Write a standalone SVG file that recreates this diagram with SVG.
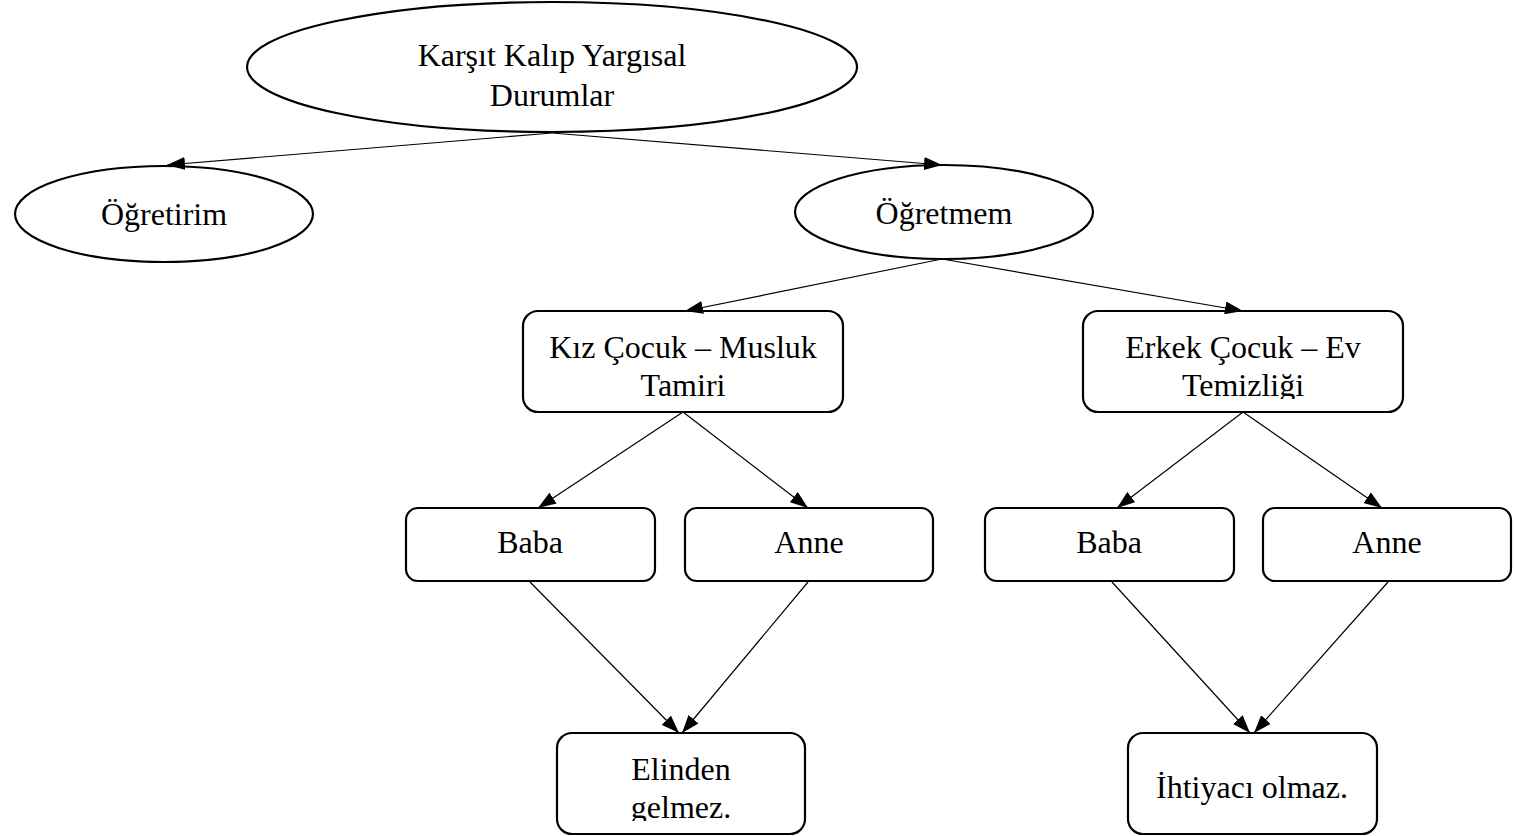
<svg xmlns="http://www.w3.org/2000/svg" width="1517" height="836" viewBox="0 0 1517 836">
<defs>
<marker id="arr" viewBox="0 0 18 13" refX="18" refY="6.5" markerWidth="18" markerHeight="13" markerUnits="userSpaceOnUse" orient="auto">
<path d="M0,0 L18,6.5 L0,13 z" fill="#000"/>
</marker>
<clipPath id="c1"><rect x="524" y="312" width="318" height="87"/></clipPath>
<clipPath id="c2"><rect x="1084" y="312" width="318" height="87"/></clipPath>
<clipPath id="c3"><rect x="558" y="734" width="246" height="87"/></clipPath>
</defs>
<style>
.s{fill:#fff;stroke:#000;stroke-width:2.2}
.t{font-family:"Liberation Serif","Times New Roman",serif;font-size:32px;fill:#000;text-anchor:middle}
.c line{stroke:#000;stroke-width:1.2;marker-end:url(#arr)}
</style>
<rect width="1517" height="836" fill="#fff"/>
<g id="root">
<ellipse class="s" cx="552" cy="67" rx="305" ry="65"/>
<text class="t" x="552" y="66">Karşıt Kalıp Yargısal</text>
<text class="t" x="552" y="106">Durumlar</text>
</g>
<g id="ogretirim">
<ellipse class="s" cx="164" cy="214" rx="149" ry="48"/>
<text class="t" x="164" y="225">Öğretirim</text>
</g>
<g id="ogretmem">
<ellipse class="s" cx="944" cy="212" rx="149" ry="47"/>
<text class="t" x="944" y="224">Öğretmem</text>
</g>
<g id="kiz">
<rect class="s" x="523" y="311" width="320" height="101" rx="15"/>
<g clip-path="url(#c1)">
<text class="t" x="683" y="358">Kız Çocuk – Musluk</text>
<text class="t" x="683" y="396">Tamiri</text>
</g>
</g>
<g id="erkek">
<rect class="s" x="1083" y="311" width="320" height="101" rx="15"/>
<g clip-path="url(#c2)">
<text class="t" x="1243" y="358">Erkek Çocuk – Ev</text>
<text class="t" x="1243" y="396">Temizliği</text>
</g>
</g>
<g id="baba1">
<rect class="s" x="406" y="508" width="249" height="73" rx="12"/>
<text class="t" x="530" y="553">Baba</text>
</g>
<g id="anne1">
<rect class="s" x="685" y="508" width="248" height="73" rx="12"/>
<text class="t" x="809" y="553">Anne</text>
</g>
<g id="baba2">
<rect class="s" x="985" y="508" width="249" height="73" rx="12"/>
<text class="t" x="1109" y="553">Baba</text>
</g>
<g id="anne2">
<rect class="s" x="1263" y="508" width="248" height="73" rx="12"/>
<text class="t" x="1387" y="553">Anne</text>
</g>
<g id="elinden">
<rect class="s" x="557" y="733" width="248" height="101" rx="15"/>
<g clip-path="url(#c3)">
<text class="t" x="681" y="780">Elinden</text>
<text class="t" x="681" y="818">gelmez.</text>
</g>
</g>
<g id="ihtiyaci">
<rect class="s" x="1128" y="733" width="249" height="101" rx="15"/>
<text class="t" x="1252" y="798">İhtiyacı olmaz.</text>
</g>
<g id="connectors" class="c">
<line x1="552" y1="133" x2="167" y2="165"/>
<line x1="552" y1="133" x2="942" y2="165"/>
<line x1="942" y1="259" x2="685" y2="311"/>
<line x1="942" y1="259" x2="1243" y2="311"/>
<line x1="683" y1="412" x2="538" y2="508"/>
<line x1="683" y1="412" x2="808" y2="508"/>
<line x1="1243" y1="412" x2="1117" y2="508"/>
<line x1="1243" y1="412" x2="1382" y2="508"/>
<line x1="530" y1="582" x2="679" y2="733"/>
<line x1="808" y1="582" x2="682" y2="733"/>
<line x1="1112" y1="582" x2="1250" y2="733"/>
<line x1="1388" y1="582" x2="1254" y2="733"/>
</g>
</svg>
